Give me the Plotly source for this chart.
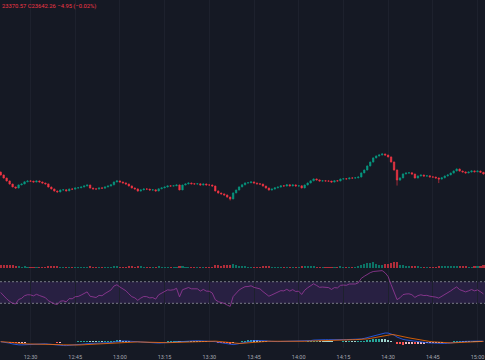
import plotly.graph_objects as go
import pandas as pd

# ---------------- data (1-minute bars) ----------------
session_date = "2025-07-15"
first_bar = "12:20"

open_ = [23648.0, 23639.3, 23630.1, 23621.4, 23612.0, 23603.5, 23600.2, 23609.6, 23612.3, 23618.7,
         23621.2, 23620.8, 23618.1, 23621.5, 23618.4, 23615.0, 23612.6, 23603.1, 23597.4, 23591.2,
         23588.5, 23594.3, 23594.9, 23591.6, 23597.2, 23596.8, 23600.4, 23600.9, 23603.3, 23606.5,
         23609.1, 23600.0, 23597.6, 23597.1, 23600.5, 23599.8, 23603.4, 23606.2, 23609.7, 23618.3,
         23621.6, 23618.2, 23615.5, 23612.1, 23606.4, 23600.3, 23597.5, 23591.0, 23594.6, 23597.3,
         23596.9, 23594.2, 23594.7, 23591.3, 23597.8, 23600.6, 23603.2, 23606.6, 23606.1, 23606.9,
         23609.4, 23594.5, 23609.3, 23612.5, 23615.2, 23612.8, 23612.2, 23612.9, 23609.0, 23612.4,
         23609.5, 23609.2, 23606.3, 23591.4, 23585.1, 23582.6, 23579.3, 23573.0, 23567.4, 23585.5,
         23594.0, 23603.6, 23609.8, 23615.4, 23615.9, 23618.5, 23615.1, 23612.7, 23611.9, 23606.0,
         23600.1, 23594.1, 23597.0, 23600.7, 23603.0, 23606.7, 23606.2, 23609.9, 23606.5, 23609.6,
         23606.1, 23606.8, 23600.4, 23609.2, 23615.3, 23621.7, 23627.4, 23624.5, 23621.1, 23621.8,
         23621.3, 23620.9, 23618.0, 23621.9, 23621.4, 23627.1, 23627.8, 23627.5, 23630.4, 23630.0,
         23630.7, 23633.2, 23645.6, 23654.1, 23666.4, 23678.0, 23690.5, 23696.2, 23699.4, 23702.1,
         23699.0, 23693.5, 23678.3, 23654.4, 23624.0, 23630.6, 23642.5, 23645.1, 23645.8, 23642.0,
         23630.2, 23636.4, 23639.1, 23636.0, 23636.7, 23633.5, 23633.0, 23630.3, 23627.0, 23630.8,
         23636.3, 23639.6, 23645.0, 23651.4, 23657.2, 23651.0, 23648.5, 23645.4, 23648.1, 23651.6,
         23648.8, 23651.1, 23647.21]

high = [23649.5, 23640.2, 23631.0, 23622.6, 23613.1, 23604.3, 23610.8, 23613.5, 23620.1, 23623.0,
        23622.9, 23621.7, 23622.8, 23622.4, 23619.3, 23616.2, 23613.4, 23604.5, 23598.1, 23592.4,
        23595.7, 23596.2, 23596.0, 23598.5, 23598.6, 23601.7, 23602.3, 23604.6, 23607.9, 23610.7,
        23610.2, 23601.1, 23598.9, 23601.6, 23601.8, 23604.8, 23607.5, 23611.0, 23619.6, 23623.4,
        23622.7, 23619.4, 23616.6, 23613.2, 23607.5, 23601.6, 23598.7, 23595.9, 23598.4, 23598.8,
        23597.7, 23596.1, 23595.8, 23599.0, 23601.9, 23604.5, 23607.8, 23608.0, 23608.3, 23610.9,
        23610.6, 23610.5, 23613.8, 23616.7, 23616.4, 23614.0, 23614.3, 23613.8, 23613.6, 23613.3,
        23610.8, 23610.1, 23607.2, 23592.6, 23586.3, 23583.5, 23580.4, 23574.1, 23586.9, 23595.6,
        23605.0, 23611.2, 23616.9, 23617.5, 23620.0, 23619.6, 23616.3, 23614.0, 23613.0, 23607.1,
        23601.2, 23598.3, 23602.0, 23604.4, 23608.0, 23607.9, 23611.3, 23610.8, 23610.9, 23610.7,
        23608.2, 23607.9, 23610.6, 23616.8, 23623.0, 23628.9, 23628.5, 23625.6, 23623.2, 23623.0,
        23622.6, 23621.9, 23623.3, 23623.1, 23628.5, 23629.2, 23629.0, 23631.8, 23631.6, 23632.0,
        23634.5, 23647.1, 23655.8, 23668.0, 23679.6, 23692.3, 23698.0, 23701.3, 23705.0, 23703.6,
        23700.2, 23694.6, 23679.5, 23655.6, 23632.1, 23644.0, 23646.8, 23647.5, 23647.0, 23643.3,
        23637.9, 23640.6, 23640.3, 23638.1, 23637.8, 23634.9, 23634.1, 23631.5, 23632.3, 23637.7,
        23641.0, 23646.4, 23652.9, 23659.0, 23658.3, 23652.4, 23649.6, 23649.5, 23653.0, 23652.7,
        23652.5, 23652.3, 23648.6]

low = [23637.8, 23628.9, 23620.0, 23610.4, 23602.2, 23598.0, 23599.1, 23608.4, 23611.5, 23617.6,
       23619.5, 23616.9, 23617.0, 23617.2, 23613.8, 23611.1, 23601.9, 23596.0, 23589.6, 23586.9,
       23587.4, 23593.1, 23590.3, 23590.8, 23595.4, 23595.9, 23599.2, 23599.8, 23602.4, 23605.3,
       23598.9, 23596.2, 23595.8, 23596.0, 23598.5, 23598.7, 23602.6, 23605.1, 23608.8, 23617.5,
       23617.0, 23614.3, 23610.8, 23605.0, 23599.1, 23596.2, 23589.5, 23589.8, 23593.5, 23595.6,
       23592.9, 23593.0, 23589.9, 23590.4, 23596.7, 23599.6, 23602.1, 23604.9, 23605.0, 23605.8,
       23593.2, 23593.6, 23608.2, 23611.4, 23611.6, 23610.9, 23611.0, 23607.7, 23608.1, 23608.3,
       23607.9, 23605.0, 23590.0, 23583.7, 23581.0, 23577.8, 23571.2, 23562.8, 23566.5, 23584.3,
       23593.1, 23602.5, 23608.6, 23614.0, 23614.8, 23613.9, 23611.5, 23610.6, 23604.8, 23598.6,
       23592.7, 23593.0, 23595.8, 23599.5, 23601.9, 23605.0, 23605.1, 23605.3, 23605.4, 23604.9,
       23604.8, 23599.0, 23599.3, 23608.1, 23614.2, 23620.6, 23623.3, 23619.9, 23620.0, 23620.1,
       23619.6, 23616.8, 23617.0, 23620.2, 23620.3, 23626.0, 23626.3, 23626.4, 23628.8, 23628.9,
       23629.6, 23632.0, 23644.3, 23653.0, 23665.1, 23676.8, 23689.2, 23694.9, 23698.0, 23697.5,
       23692.1, 23676.5, 23652.0, 23607.5, 23621.8, 23629.3, 23641.0, 23643.7, 23640.6, 23628.7,
       23629.0, 23635.2, 23634.7, 23634.6, 23632.2, 23631.6, 23629.0, 23615.0, 23625.8, 23629.6,
       23635.1, 23638.5, 23643.8, 23650.2, 23649.7, 23647.2, 23644.0, 23644.2, 23646.9, 23647.5,
       23647.6, 23645.9, 23640.8]

close = [23639.3, 23630.1, 23621.4, 23612.0, 23603.5, 23600.2, 23609.6, 23612.3, 23618.7, 23621.2,
         23620.8, 23618.1, 23621.5, 23618.4, 23615.0, 23612.6, 23603.1, 23597.4, 23591.2, 23588.5,
         23594.3, 23594.9, 23591.6, 23597.2, 23596.8, 23600.4, 23600.9, 23603.3, 23606.5, 23609.1,
         23600.0, 23597.6, 23597.1, 23600.5, 23599.8, 23603.4, 23606.2, 23609.7, 23618.3, 23621.6,
         23618.2, 23615.5, 23612.1, 23606.4, 23600.3, 23597.5, 23591.0, 23594.6, 23597.3, 23596.9,
         23594.2, 23594.7, 23591.3, 23597.8, 23600.6, 23603.2, 23606.6, 23606.1, 23606.9, 23609.4,
         23594.5, 23609.3, 23612.5, 23615.2, 23612.8, 23612.2, 23612.9, 23609.0, 23612.4, 23609.5,
         23609.2, 23606.3, 23591.4, 23585.1, 23582.6, 23579.3, 23573.0, 23567.4, 23585.5, 23594.0,
         23603.6, 23609.8, 23615.4, 23615.9, 23618.5, 23615.1, 23612.7, 23611.9, 23606.0, 23600.1,
         23594.1, 23597.0, 23600.7, 23603.0, 23606.7, 23606.2, 23609.9, 23606.5, 23609.6, 23606.1,
         23606.8, 23600.4, 23609.2, 23615.3, 23621.7, 23627.4, 23624.5, 23621.1, 23621.8, 23621.3,
         23620.9, 23618.0, 23621.9, 23621.4, 23627.1, 23627.8, 23627.5, 23630.4, 23630.0, 23630.7,
         23633.2, 23645.6, 23654.1, 23666.4, 23678.0, 23690.5, 23696.2, 23699.4, 23702.1, 23699.0,
         23693.5, 23678.3, 23654.4, 23624.0, 23630.6, 23642.5, 23645.1, 23645.8, 23642.0, 23630.2,
         23636.4, 23639.1, 23636.0, 23636.7, 23633.5, 23633.0, 23630.3, 23627.0, 23630.8, 23636.3,
         23639.6, 23645.0, 23651.4, 23657.2, 23651.0, 23648.5, 23645.4, 23648.1, 23651.6, 23648.8,
         23651.1, 23647.21, 23642.26]

volume = [280, 260, 300, 240, 220, 150, 130, 110, 140, 120,
          100, 90, 110, 100, 120, 110, 150, 140, 160, 130,
          120, 90, 100, 110, 90, 100, 80, 110, 120, 100,
          150, 110, 90, 100, 80, 100, 110, 120, 170, 140,
          120, 110, 120, 130, 150, 120, 160, 130, 110, 90,
          100, 90, 110, 130, 120, 110, 100, 90, 100, 120,
          200, 210, 120, 110, 90, 80, 90, 100, 90, 100,
          90, 110, 220, 250, 200, 230, 280, 300, 380, 260,
          200, 150, 140, 100, 110, 100, 120, 90, 130, 170,
          180, 120, 110, 100, 120, 90, 110, 100, 90, 100,
          110, 160, 180, 150, 140, 160, 120, 110, 100, 90,
          100, 110, 100, 90, 140, 110, 100, 120, 100, 110,
          160, 300, 380, 450, 420, 480, 360, 300, 280, 320,
          380, 420, 500, 480, 300, 260, 200, 150, 130, 180,
          140, 120, 110, 120, 100, 110, 100, 200, 130, 140,
          150, 160, 170, 180, 150, 140, 130, 120, 110, 140,
          150, 180, 220]

tick_labels = ["12:30", "12:45", "13:00", "13:15", "13:30", "13:45",
               "14:00", "14:15", "14:30", "14:45", "15:00"]
legend_text = "23370.57 C23642.26 \u22124.95 (\u22120.02%)"
rsi_levels = [70, 30]

# ---------------- indicators derived from the closes ----------------
n = len(close)
times = pd.date_range(f"{session_date} {first_bar}", periods=n, freq="1min")
tick_vals = [pd.Timestamp(f"{session_date} {t}") for t in tick_labels]

c = pd.Series(close)
d = c.diff().fillna(0.0)
seed = d.abs().iloc[1:].mean() / 2
ag = al = seed
rsi = []
for i in range(n):
    if i > 0:
        g = max(d.iloc[i], 0.0)
        l = max(-d.iloc[i], 0.0)
        ag = (ag * 13 + g) / 14
        al = (al * 13 + l) / 14
    rsi.append(100 - 100 / (1 + ag / al))

ema12 = c.ewm(span=12, adjust=False).mean()
ema26 = c.ewm(span=26, adjust=False).mean()
macd = ema12 - ema26
signal = macd.ewm(span=9, adjust=False).mean()
hist = macd - signal
hist_colors = []
for i, h in enumerate(hist):
    prev = hist.iloc[i - 1] if i > 0 else 0.0
    if h >= 0:
        hist_colors.append("#26a69a" if h >= prev else "#9fd3cc")
    else:
        hist_colors.append("#ff5252" if h < prev else "#f0b9bf")

UP, DOWN = "#089981", "#f23645"
vol_colors = ["rgba(8,153,129,0.7)" if cl >= op else "rgba(242,54,69,0.7)"
              for op, cl in zip(open_, close)]

# ---------------- layout geometry (pixels) ----------------
W, H, B = 485, 360, 12
PH = H - B


def frac(y_px):
    return (PH - y_px) / PH


BG = "#151924"
GRID = "#1d212d"

fig = go.Figure()
fig.add_trace(go.Candlestick(
    x=times, open=open_, high=high, low=low, close=close,
    increasing=dict(line=dict(color=UP, width=0.6), fillcolor=UP),
    decreasing=dict(line=dict(color=DOWN, width=0.6), fillcolor=DOWN),
    whiskerwidth=0, yaxis="y", hoverinfo="skip"))
fig.add_trace(go.Bar(x=times, y=volume, marker=dict(color=vol_colors, line=dict(width=0)),
                     width=42000, yaxis="y2", hoverinfo="skip"))
fig.add_trace(go.Scatter(x=times, y=rsi, mode="lines", line=dict(color="#9a3a9c", width=0.8),
                         yaxis="y3", hoverinfo="skip"))
fig.add_trace(go.Bar(x=times, y=hist, marker=dict(color=hist_colors, line=dict(width=0)),
                     width=42000, yaxis="y4", hoverinfo="skip"))
fig.add_trace(go.Scatter(x=times, y=macd, mode="lines", line=dict(color="#2962ff", width=0.8),
                         yaxis="y4", hoverinfo="skip"))
fig.add_trace(go.Scatter(x=times, y=signal, mode="lines", line=dict(color="#ff6d00", width=0.8),
                         yaxis="y4", hoverinfo="skip"))

# RSI band and levels
fig.add_shape(type="rect", xref="paper", x0=0, x1=1, yref="y3", y0=rsi_levels[1], y1=rsi_levels[0],
              fillcolor="rgba(120,60,190,0.2)", line=dict(width=0), layer="below")
for lv in rsi_levels:
    fig.add_shape(type="line", xref="paper", x0=0, x1=1, yref="y3", y0=lv, y1=lv,
                  line=dict(color="#787b86", width=1, dash="2px,2px"), layer="below")

# axis ranges from pixel geometry
px_per_pt = 3.0
top_price = 23702.26 + 154 * px_per_pt
price_range = [top_price - 270 * px_per_pt, top_price]

m_max = max(macd.max(), signal.max())
f0 = (348 - 341.7) / 36.0
fm = (348 - 333.0) / 36.0
span = m_max / (fm - f0)
macd_range = [-f0 * span, -f0 * span + span]

x0 = pd.Timestamp(f"{session_date} 12:30") - pd.Timedelta(minutes=30.5 / 2.98)
x1 = x0 + pd.Timedelta(minutes=W / 2.98)

hidden_y = dict(showgrid=False, zeroline=False, showticklabels=False, showline=False)
fig.update_layout(
    width=W, height=H,
    margin=dict(l=0, r=0, t=0, b=B, pad=0),
    paper_bgcolor=BG, plot_bgcolor=BG,
    showlegend=False, hovermode=False, bargap=0,
    xaxis=dict(range=[x0, x1], rangeslider=dict(visible=False), anchor="y4",
               tickvals=tick_vals, ticktext=tick_labels, showgrid=True, gridcolor=GRID,
               gridwidth=1, zeroline=False, showline=False, ticks="", ticklabelstandoff=4,
               tickfont=dict(family="Roboto", size=5.5, color="#a3a6af")),
    yaxis=dict(domain=[frac(270), frac(0)], range=price_range, **hidden_y),
    yaxis2=dict(domain=[frac(268), frac(240)], range=[0, 2400], **hidden_y),
    yaxis3=dict(domain=[frac(312), frac(270)], range=[13.9, 91.7], **hidden_y),
    yaxis4=dict(domain=[frac(348), frac(312)], range=macd_range, **hidden_y),
    annotations=[dict(text=legend_text, xref="paper", yref="paper", x=0, y=1,
                      xanchor="left", yanchor="top", yshift=-1, xshift=0, showarrow=False,
                      font=dict(family="Roboto", size=5.8, color="#f23645"))],
)

fig.write_html("out.html", config={"staticPlot": True},
               post_script="document.body.style.margin='0';document.body.style.overflow='hidden';")
